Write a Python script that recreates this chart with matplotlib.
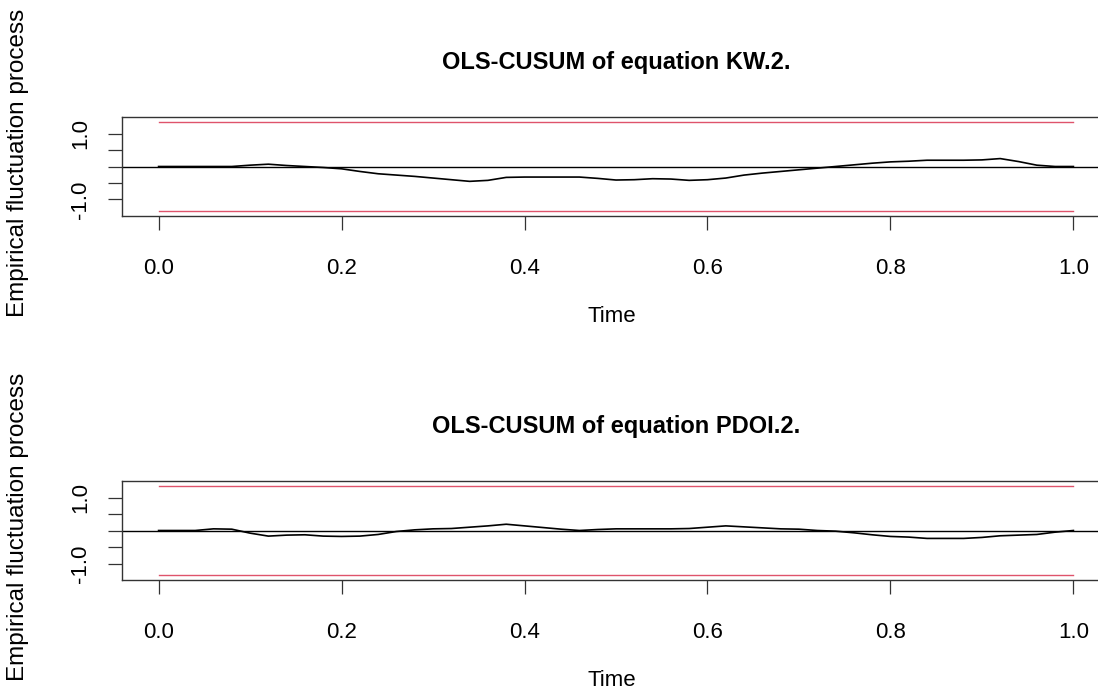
import matplotlib
matplotlib.use("Agg")
import matplotlib.pyplot as plt

plt.rcParams['font.family'] = ['Liberation Sans', 'DejaVu Sans']

# time axis of the fluctuation process
time = [0.00, 0.02, 0.04, 0.06, 0.08, 0.10, 0.12, 0.14, 0.16, 0.18,
        0.20, 0.22, 0.24, 0.26, 0.28, 0.30, 0.32, 0.34, 0.36, 0.38,
        0.40, 0.42, 0.44, 0.46, 0.48, 0.50, 0.52, 0.54, 0.56, 0.58,
        0.60, 0.62, 0.64, 0.66, 0.68, 0.70, 0.72, 0.74, 0.76, 0.78,
        0.80, 0.82, 0.84, 0.86, 0.88, 0.90, 0.92, 0.94, 0.96, 0.98, 1.00]

# OLS-CUSUM process, equation KW.2
kw2 = [0.00, 0.00, 0.00, 0.00, 0.00, 0.04, 0.07, 0.03, 0.00, -0.03,
       -0.07, -0.15, -0.22, -0.26, -0.30, -0.35, -0.40, -0.45, -0.42, -0.33,
       -0.32, -0.32, -0.32, -0.32, -0.36, -0.41, -0.40, -0.37, -0.38, -0.42,
       -0.40, -0.35, -0.26, -0.20, -0.15, -0.10, -0.05, 0.00, 0.05, 0.10,
       0.14, 0.16, 0.19, 0.19, 0.19, 0.20, 0.24, 0.15, 0.04, 0.00, 0.00]

# OLS-CUSUM process, equation PDOI.2
pdoi2 = [0.00, 0.00, 0.00, 0.05, 0.04, -0.08, -0.17, -0.14, -0.13, -0.17,
         -0.18, -0.17, -0.12, -0.03, 0.02, 0.05, 0.06, 0.10, 0.14, 0.19,
         0.14, 0.09, 0.04, 0.00, 0.03, 0.05, 0.05, 0.05, 0.05, 0.06,
         0.10, 0.14, 0.11, 0.08, 0.05, 0.04, 0.00, -0.02, -0.07, -0.13,
         -0.18, -0.20, -0.24, -0.24, -0.24, -0.21, -0.16, -0.14, -0.12, -0.05, 0.00]

boundary = 1.358
titles = ["OLS-CUSUM of equation KW.2.", "OLS-CUSUM of equation PDOI.2."]
xticks = [0.0, 0.2, 0.4, 0.6, 0.8, 1.0]
yticks = [-1.0, -0.5, 0.0, 0.5, 1.0]
ylabels = ["-1.0", "", "", "", "1.0"]

W, H = 1098, 692
fig = plt.figure(figsize=(W / 100, H / 100), dpi=100)

# pixel boxes (left, top, right, bottom)
boxes = [(122, 117, 1110, 216), (122, 481, 1110, 580)]

for (l, t, r, b), series, title in zip(boxes, [kw2, pdoi2], titles):
    ax = fig.add_axes([l / W, (H - b) / H, (r - l) / W, (b - t) / H])
    ax.set_xlim(-0.04, 1.04)
    ax.set_ylim(-1.5, 1.5)
    ax.plot(time, series, color='black', lw=1.2)
    ax.axhline(0, color='black', lw=1.0)
    ax.plot([0, 1], [boundary, boundary], color='#DF536B', lw=1.0)
    ax.plot([0, 1], [-boundary, -boundary], color='#DF536B', lw=1.0)
    ax.set_xticks(xticks)
    ax.set_xticklabels(["%.1f" % v for v in xticks])
    ax.set_yticks(yticks)
    ax.set_yticklabels(ylabels, rotation=90, va='center')
    ax.tick_params(axis='both', direction='out', length=10, width=0.9,
                   labelsize=16, color='#333333')
    ax.tick_params(axis='x', pad=20)
    ax.tick_params(axis='y', pad=12)
    for s in ax.spines.values():
        s.set_linewidth(1.0)
        s.set_color('#333333')
    fig.text(616 / W, 1 - (t - 54) / H, title, ha='center', va='center',
             fontsize=17, fontweight='bold')
    fig.text(612 / W, 1 - (b + 101) / H, "Time", ha='center', va='center',
             fontsize=16)
    fig.text(18 / W, 1 - ((t + b) / 2 - 4) / H, "Empirical fluctuation process",
             ha='center', va='center', rotation=90, fontsize=17.5)

fig.savefig("out.png", dpi=100)
